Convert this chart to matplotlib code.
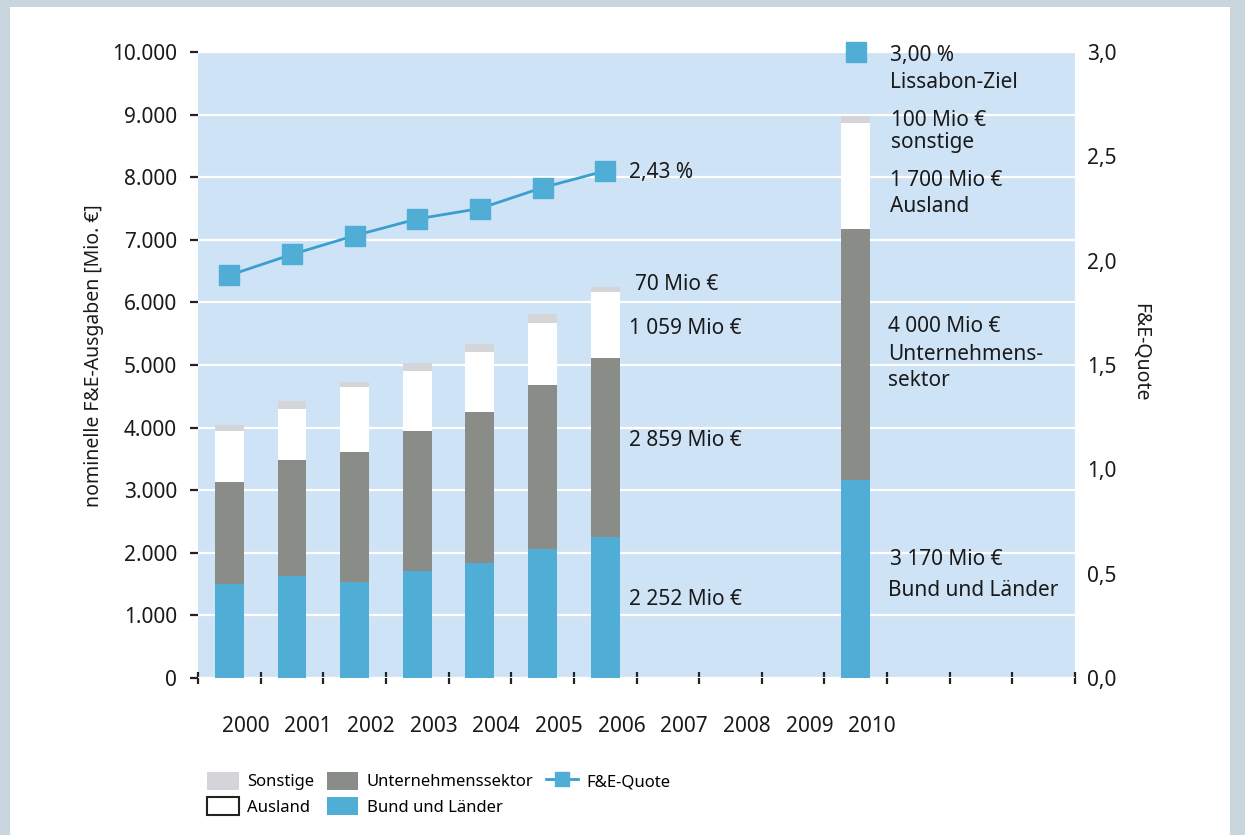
import matplotlib
matplotlib.use("Agg")
import matplotlib.pyplot as plt
from matplotlib.patches import Patch, Rectangle
from matplotlib.lines import Line2D
from matplotlib.ticker import FuncFormatter

plt.rcParams["font.family"] = ["Noto Sans", "DejaVu Sans"]

# data (Mio. EUR)
years = [2000, 2001, 2002, 2003, 2004, 2005, 2006, 2010]
bund = [1500, 1630, 1535, 1710, 1837, 2061, 2252, 3170]
unternehmen = [1630, 1850, 2075, 2236, 2412, 2624, 2859, 4000]
ausland = [815, 815, 1033, 958, 953, 991, 1059, 1700]
sonstige = [90, 128, 80, 123, 128, 134, 70, 100]

quote_years = [2000, 2001, 2002, 2003, 2004, 2005, 2006]
quote = [1.93, 2.03, 2.12, 2.20, 2.25, 2.35, 2.43]
ziel_year = 2010
ziel = 3.0

axis_years = list(range(2000, 2011))

C_BUND = "#4fadd6"
C_UNT = "#8a8c88"
C_SONST = "#d5d4d8"
C_BG = "#cfe3f6"
C_LINE = "#3a9fcf"
C_TEXT = "#1a1a1a"

fig = plt.figure(figsize=(12.45, 8.35), dpi=100, facecolor="#c9d6dd")
fig.patches.append(Rectangle((10 / 1245, 0), 1220 / 1245, 1 - 7 / 835,
                             transform=fig.transFigure, facecolor="white",
                             edgecolor="none", zorder=-10))

ax = fig.add_axes([198 / 1245, 1 - 678 / 835, 877 / 1245, 626 / 835])
ax.set_facecolor(C_BG)
ax.set_axisbelow(True)

x = [y - 2000 for y in years]
w = 0.46
bottom = [0] * len(x)
for vals, col in [(bund, C_BUND), (unternehmen, C_UNT),
                  (ausland, "white"), (sonstige, C_SONST)]:
    ax.bar(x, vals, w, bottom=bottom, color=col, linewidth=0)
    bottom = [b + v for b, v in zip(bottom, vals)]

ax.set_xlim(-0.5, 13.5)
ax.set_ylim(0, 10000)
ax.set_yticks(range(0, 10001, 1000))
ax.yaxis.set_major_formatter(FuncFormatter(lambda v, p: f"{int(v):,}".replace(",", ".")))
ax.grid(axis="y", color="white", linewidth=1.6)
for s in ax.spines.values():
    s.set_visible(False)

ax.set_xticks([i - 0.5 for i in range(15)])
ax.set_xticklabels([])
ax.set_xticks([yr - 2000 + 0.26 for yr in axis_years], [str(yr) for yr in axis_years], minor=True)
ax.tick_params(axis="x", which="major", direction="inout", length=8, width=1.6, color="#222222")
ax.tick_params(axis="x", which="minor", length=0, pad=27, labelsize=15, labelcolor=C_TEXT)
ax.tick_params(axis="y", length=6, width=1.6, color="#222222", pad=9, labelsize=15, labelcolor=C_TEXT)
ax.set_ylabel("nominelle F&E-Ausgaben [Mio. €]", fontsize=14, color=C_TEXT, labelpad=6)
ax.yaxis.label.set_y(0.515)

ax2 = ax.twinx()
ax2.set_ylim(0, 3)
ax2.set_yticks([0, 0.5, 1.0, 1.5, 2.0, 2.5, 3.0])
ax2.yaxis.set_major_formatter(FuncFormatter(lambda v, p: f"{v:.1f}".replace(".", ",")))
ax2.tick_params(axis="y", length=0, pad=9, labelsize=15, labelcolor=C_TEXT)
for s in ax2.spines.values():
    s.set_visible(False)
ax2.set_ylabel("F&E-Quote", rotation=270, fontsize=14, color=C_TEXT, labelpad=24)
ax2.yaxis.label.set_y(0.52)

ax2.plot([y - 2000 for y in quote_years], quote, color=C_LINE, linewidth=2,
         marker="s", markersize=15, markerfacecolor=C_BUND, markeredgecolor=C_BUND)
ax2.plot([ziel_year - 2000], [ziel], linestyle="none", marker="s", markersize=15,
         markerfacecolor=C_BUND, markeredgecolor=C_BUND, clip_on=False)

# annotations
fs = 15
notes = [
    (6.38, 8080, "2,43 %"),
    (6.47, 6280, "70 Mio €"),
    (6.38, 5590, "1 059 Mio €"),
    (6.38, 3790, "2 859 Mio €"),
    (6.38, 1260, "2 252 Mio €"),
    (10.54, 9950, "3,00 %"),
    (10.54, 9520, "Lissabon-Ziel"),
    (10.56, 8910, "100 Mio €"),
    (10.56, 8560, "sonstige"),
    (10.54, 7955, "1 700 Mio €"),
    (10.54, 7525, "Ausland"),
    (10.52, 5610, "4 000 Mio €"),
    (10.52, 5160, "Unternehmens-"),
    (10.52, 4760, "sektor"),
    (10.54, 1885, "3 170 Mio €"),
    (10.52, 1405, "Bund und Länder"),
]
for nx, ny, t in notes:
    ax.text(nx, ny, t, fontsize=fs, color=C_TEXT, ha="left", va="center", zorder=5)

handles = [
    Patch(facecolor=C_SONST, edgecolor="none", label="Sonstige"),
    Patch(facecolor="white", edgecolor="#222222", linewidth=1.5, label="Ausland"),
    Patch(facecolor=C_UNT, edgecolor="none", label="Unternehmenssektor"),
    Patch(facecolor=C_BUND, edgecolor="none", label="Bund und Länder"),
    Line2D([], [], color=C_LINE, linewidth=2, marker="s", markersize=10,
           markerfacecolor=C_BUND, markeredgecolor=C_BUND, label="F&E-Quote"),
]
fig.legend(handles=handles, ncol=3, loc="upper left",
           bbox_to_anchor=(192 / 1245, 1 - 757 / 835), frameon=False,
           fontsize=12, handlelength=1.9, handleheight=1.25, handletextpad=0.5,
           columnspacing=0.75, labelspacing=0.4, borderpad=0.4)

fig.savefig("out.png", dpi=100, facecolor=fig.get_facecolor())
